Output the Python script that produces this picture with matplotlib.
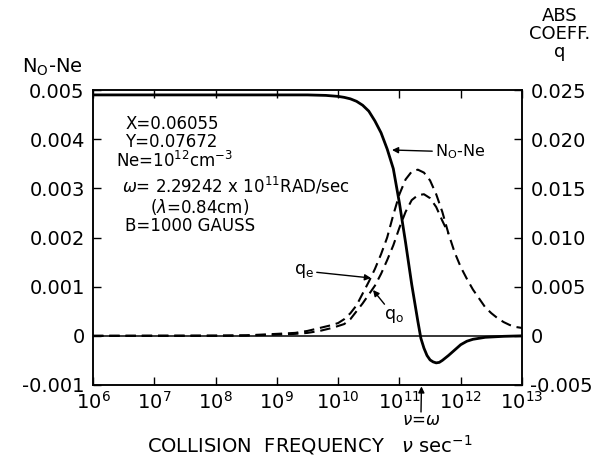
import numpy as np
import matplotlib
matplotlib.use("Agg")
import matplotlib.pyplot as plt

plt.rcParams['font.family'] = ['DejaVu Sans']
plt.rcParams['mathtext.fontset'] = 'dejavusans'

# ---- data ----
# N0 - Ne (left axis) vs log10(collision frequency)
logn_diff = [6.0, 9.5, 9.8, 10.0, 10.1, 10.2, 10.3, 10.4, 10.5, 10.6, 10.7, 10.8,
             10.9, 11.0, 11.1, 11.2, 11.3, 11.35, 11.4, 11.45, 11.5, 11.55, 11.6,
             11.65, 11.7, 11.8, 11.9, 12.0, 12.1, 12.2, 12.4, 12.7, 13.0]
n_diff = [0.0049, 0.0049, 0.00489, 0.00487, 0.00485, 0.00482, 0.00477, 0.00469,
          0.00457, 0.00437, 0.00413, 0.0038, 0.0034, 0.0027, 0.0019, 0.00105, 0.0003,
          -0.00005, -0.00025, -0.0004, -0.00049, -0.00053, -0.00055, -0.00054, -0.0005,
          -0.0004, -0.00029, -0.00018, -0.00011, -0.00007, -0.00003, -0.00001, 0.0]

# q_e absorption coefficient (right axis)
logn_qe = [6.0, 8.0, 8.5, 9.0, 9.3, 9.5, 9.7, 9.9, 10.0, 10.1, 10.2, 10.3, 10.4, 10.5,
           10.6, 10.7, 10.8, 10.9, 11.0, 11.1, 11.2, 11.3, 11.4, 11.5, 11.6, 11.7,
           11.8, 11.9, 12.0, 12.1, 12.2, 12.3, 12.4, 12.5, 12.6, 12.7, 12.8, 12.9, 13.0]
q_e = [0.0, 0.00002, 0.00005, 0.0002, 0.0003, 0.0005, 0.0008, 0.0011, 0.0013, 0.0017,
       0.0023, 0.0031, 0.0043, 0.0055, 0.0068, 0.0083, 0.0100, 0.0123, 0.0144, 0.0159,
       0.0167, 0.0169, 0.0166, 0.0158, 0.0144, 0.0126, 0.0104, 0.0085, 0.0070, 0.0058,
       0.0047, 0.0038, 0.0029, 0.0023, 0.0018, 0.0014, 0.0011, 0.0009, 0.0008]

# q_o absorption coefficient (right axis); beyond 10^11.8 it coincides with q_e
logn_qo = [6.0, 8.0, 8.5, 9.0, 9.3, 9.5, 9.7, 9.9, 10.0, 10.1, 10.2, 10.3, 10.4, 10.5,
           10.6, 10.7, 10.8, 10.9, 11.0, 11.1, 11.2, 11.3, 11.4, 11.5, 11.6, 11.7, 11.8]
q_o = [0.0, 0.00001, 0.00003, 0.00012, 0.0002, 0.0003, 0.0005, 0.0008, 0.0010, 0.0012,
       0.0017, 0.0025, 0.0033, 0.0042, 0.0051, 0.0063, 0.0077, 0.0092, 0.0110, 0.0126,
       0.0138, 0.0143, 0.0144, 0.0140, 0.0131, 0.0117, 0.0104]

xtick_exp = [6, 7, 8, 9, 10, 11, 12, 13]
left_ticks = [-0.001, 0, 0.001, 0.002, 0.003, 0.004, 0.005]
left_labels = ['-0.001', '0', '0.001', '0.002', '0.003', '0.004', '0.005']
right_ticks = [-0.005, 0, 0.005, 0.010, 0.015, 0.020, 0.025]
right_labels = ['-0.005', '0', '0.005', '0.010', '0.015', '0.020', '0.025']
omega = 2.29242e11

W, H = 601, 467
fig = plt.figure(figsize=(W / 100, H / 100), dpi=100)
L, R, T, B = 93, 522, 90, 385
ax = fig.add_axes([L / W, 1 - B / H, (R - L) / W, (B - T) / H])
ax2 = ax.twinx()

def px(x, y):
    return (x / W, 1 - y / H)

ax.set_xscale('log')
ax.set_xlim(1e6, 1e13)
ax.set_ylim(-0.001, 0.005)
ax2.set_ylim(-0.005, 0.025)

ax.axhline(0, color='black', lw=1.1)
ax.plot(10 ** np.array(logn_diff), n_diff, color='black', lw=2.0)
ax2.plot(10 ** np.array(logn_qe), q_e, color='black', lw=1.5, dashes=(5, 2.8))
ax2.plot(10 ** np.array(logn_qo), q_o, color='black', lw=1.5, dashes=(5, 2.8))

ax.set_xticks([10.0 ** e for e in xtick_exp])
ax.set_xticklabels([r'$10^{%d}$' % e for e in xtick_exp], fontsize=14)
ax.xaxis.set_minor_locator(matplotlib.ticker.NullLocator())
ax.set_yticks(left_ticks)
ax.set_yticklabels(left_labels, fontsize=14)
ax2.set_yticks(right_ticks)
ax2.set_yticklabels(right_labels, fontsize=14)

ax.tick_params(axis='x', which='major', direction='in', length=6, width=1, top=True,
               pad=4)
ax.tick_params(axis='y', direction='in', length=6, width=1, pad=6)
ax2.tick_params(axis='y', direction='in', length=6, width=1, pad=6)
for a in (ax, ax2):
    for s in a.spines.values():
        s.set_linewidth(1.1)

# axis titles
fig.text(*px(22, 67), r'N$_\mathrm{O}$-Ne', fontsize=14, va='center', ha='left')
fig.text(*px(560, 34), 'ABS\nCOEFF.\nq', fontsize=13, va='center', ha='center',
         linespacing=1.0)
fig.text(*px(310, 445), r'COLLISION  FREQUENCY   $\nu$ sec$^{-1}$', fontsize=14,
         ha='center', va='center')

# parameter block
fs = 12
fig.text(*px(125, 124), 'X=0.06055', fontsize=fs, va='center')
fig.text(*px(125, 142), 'Y=0.07672', fontsize=fs, va='center')
fig.text(*px(116, 161), r'Ne=10$^{12}$cm$^{-3}$', fontsize=fs, va='center')
fig.text(*px(122, 186), r'$\omega$= 2.29242 x 10$^{11}$RAD/sec', fontsize=fs, va='center')
fig.text(*px(150, 207), r'($\lambda$=0.84cm)', fontsize=fs, va='center')
fig.text(*px(125, 226), 'B=1000 GAUSS', fontsize=fs, va='center')

arrow = dict(arrowstyle='-|>', color='black', lw=1.0, mutation_scale=9,
             shrinkA=0, shrinkB=0)
# curve labels
ax.annotate(r'N$_\mathrm{O}$-Ne', xy=px(392, 150), xycoords='figure fraction',
            xytext=px(435, 152), textcoords='figure fraction', fontsize=11.5,
            va='center', ha='left', arrowprops=arrow)
ax.annotate(r'q$_\mathrm{e}$', xy=px(371, 278), xycoords='figure fraction',
            xytext=px(314, 271), textcoords='figure fraction', fontsize=12.5,
            va='center', ha='right', arrowprops=arrow)
ax.annotate(r'q$_\mathrm{o}$', xy=px(373, 290), xycoords='figure fraction',
            xytext=px(384, 316), textcoords='figure fraction', fontsize=12.5,
            va='center', ha='left', arrowprops=arrow)
# nu = omega marker
ax.annotate('', xy=(omega, 0), xycoords=('data', 'axes fraction'),
            xytext=px(421, 412), textcoords='figure fraction',
            arrowprops=dict(arrowstyle='-|>', color='black', lw=1.0,
                            mutation_scale=9, shrinkA=0, shrinkB=1))
fig.text(*px(421, 420), r'$\nu$=$\omega$', fontsize=12, ha='center', va='center')

fig.savefig('out.png', dpi=100)
